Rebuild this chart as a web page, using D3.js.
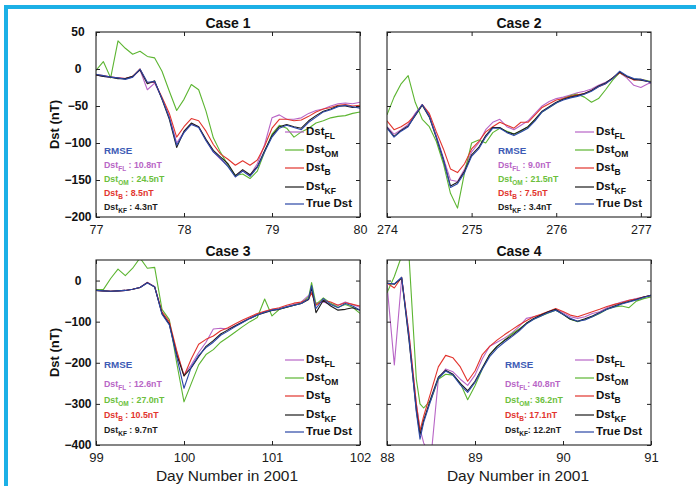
<!DOCTYPE html>
<html>
<head>
<meta charset="utf-8">
<script src="https://cdn.jsdelivr.net/npm/d3@7"></script>
<style>
  body { margin: 0; background: #fff; }
  svg { display: block; font-family: "Liberation Sans", Arial, sans-serif; }
</style>
</head>
<body>
<svg id="chart" width="696" height="486"></svg>
<script>
// ---- Dst storm cases, day numbers in 2001 (hours after the first day shown) ----
const case1Hours = [0,2,4,6,8,10,12,14,16,18,20,22,24,26,28,30,32,34,36,38,40,42,44,46,48,50,52,54,56,58,60,62,64,66,68,70,72];
const case1FL   = [-8,-10,-11,-12,-13,-11,-1,-28,-19,-40,-64,-100,-85,-74,-78,-96,-112,-122,-131,-145,-137,-144,-128,-102,-66,-62,-68,-68,-66,-60,-56,-54,-50,-47,-46,-47,-45];
const case1OM   = [-2,10,-12,38,28,20,24,17,15,-3,-30,-56,-41,-21,-28,-57,-93,-113,-130,-144,-142,-148,-138,-112,-88,-76,-80,-92,-85,-80,-73,-70,-66,-64,-63,-60,-58];
const case1B    = [-8,-9,-11,-12,-13,-10,0,-19,-18,-38,-60,-92,-78,-67,-70,-84,-102,-115,-122,-130,-124,-130,-123,-104,-80,-68,-68,-70,-69,-64,-58,-54,-52,-49,-48,-50,-49];
const case1KF   = [-8,-10,-11,-13,-13,-10,-1,-20,-16,-41,-68,-106,-84,-73,-78,-95,-110,-119,-128,-144,-136,-143,-132,-110,-90,-78,-75,-78,-80,-70,-63,-57,-54,-50,-50,-52,-51];
const case1True = [-7,-9,-11,-12,-14,-11,0,-18,-17,-40,-66,-103,-86,-75,-79,-97,-112,-121,-132,-146,-138,-145,-133,-112,-92,-80,-76,-79,-82,-72,-65,-58,-55,-51,-49,-51,-53];
const case1Rmse = ["10.8", "24.5", "8.5", "4.3"];

const case2Hours = [0,2,4,6,8,10,12,14,16,18,20,22,24,26,28,30,32,34,36,38,40,42,44,46,48,50,52,54,56,58,60,62,64,66,68,70,72,74,76];
const case2FL   = [-78,-88,-82,-75,-60,-48,-62,-90,-120,-150,-152,-135,-112,-100,-82,-72,-68,-78,-82,-76,-70,-60,-50,-44,-40,-38,-35,-32,-30,-27,-22,-18,-13,-5,-12,-22,-25,-20,-18];
const case2OM   = [-62,-38,-20,-9,-45,-68,-78,-98,-128,-168,-188,-140,-100,-96,-100,-86,-80,-84,-88,-84,-78,-68,-58,-52,-46,-40,-36,-34,-38,-45,-40,-28,-15,-5,-10,-14,-14,-16,-18];
const case2B    = [-70,-82,-78,-72,-62,-48,-60,-85,-108,-135,-140,-128,-108,-98,-85,-78,-72,-76,-80,-72,-72,-62,-52,-47,-42,-40,-37,-35,-33,-29,-24,-20,-12,-5,-10,-15,-14,-17,-19];
const case2KF   = [-79,-91,-83,-77,-63,-49,-65,-93,-123,-158,-153,-138,-116,-106,-90,-79,-79,-85,-88,-83,-78,-68,-57,-51,-45,-41,-38,-36,-33,-29,-23,-19,-12,-4,-10,-14,-15,-17,-19];
const case2True = [-80,-92,-84,-78,-62,-48,-64,-92,-122,-160,-155,-140,-118,-108,-92,-80,-80,-86,-90,-85,-80,-70,-58,-52,-46,-42,-39,-37,-34,-30,-24,-20,-13,-3,-9,-13,-14,-17,-20];
const case2Rmse = ["9.0", "21.5", "7.5", "3.4"];

const case3Hours = [0,2,4,6,8,10,12,14,16,18,20,22,24,26,28,30,32,34,36,38,40,42,44,46,48,50,52,54,56,58,58.8,60,62,64,66,68,70,72];
const case3FL   = [-24,-25,-26,-25,-24,-21,-17,-4,-15,-80,-104,-175,-230,-205,-175,-150,-118,-116,-118,-110,-100,-90,-82,-76,-70,-68,-63,-58,-52,-36,-28,-55,-52,-58,-60,-52,-58,-65];
const case3OM   = [-22,-22,5,28,12,30,55,30,32,-70,-95,-200,-295,-250,-205,-180,-168,-150,-138,-125,-112,-100,-90,-45,-86,-70,-65,-60,-55,-40,-5,-58,-42,-55,-65,-58,-65,-80];
const case3B    = [-24,-25,-26,-25,-24,-21,-17,-5,-15,-76,-100,-170,-232,-190,-155,-143,-135,-122,-115,-105,-96,-88,-80,-75,-70,-66,-60,-55,-52,-45,-30,-60,-48,-52,-60,-54,-58,-62];
const case3KF   = [-24,-25,-26,-25,-24,-21,-17,-5,-16,-80,-106,-180,-232,-212,-185,-160,-146,-130,-120,-110,-101,-92,-84,-78,-73,-70,-65,-60,-56,-46,-18,-78,-48,-62,-72,-70,-66,-72];
const case3True = [-24,-25,-26,-25,-24,-21,-17,-6,-15,-82,-108,-185,-262,-210,-182,-163,-150,-133,-123,-112,-102,-92,-84,-77,-72,-69,-64,-60,-56,-44,-12,-68,-44,-58,-66,-56,-62,-72];
const case3Rmse = ["12.6", "27.0", "10.5", "9.7"];

const case4Hours = [0,2,4,6,8,9,10,12,14,16,18,20,22,24,26,28,30,32,34,36,38,40,42,44,46,48,50,52,54,56,58,60,62,64,66,68,70,72];
const case4FL   = [-10,-205,5,-130,-300,-360,-395,-430,-240,-215,-222,-240,-255,-230,-190,-160,-150,-140,-128,-112,-92,-88,-84,-76,-70,-78,-88,-92,-88,-80,-76,-66,-58,-52,-48,-44,-40,-37];
const case4OM   = [-30,10,60,60,-240,-300,-310,-290,-240,-228,-230,-250,-290,-256,-215,-180,-160,-145,-130,-118,-104,-94,-86,-79,-72,-82,-94,-100,-94,-88,-80,-70,-64,-62,-66,-50,-44,-40];
const case4B    = [-6,-18,8,-130,-300,-365,-330,-270,-210,-182,-188,-210,-245,-220,-180,-160,-145,-132,-120,-108,-98,-88,-82,-75,-68,-75,-84,-88,-82,-76,-70,-63,-58,-54,-48,-45,-40,-36];
const case4KF   = [-6,-9,6,-145,-315,-375,-340,-285,-235,-218,-228,-250,-268,-245,-212,-180,-160,-146,-134,-120,-104,-92,-84,-76,-70,-82,-94,-99,-93,-86,-78,-69,-62,-56,-51,-46,-40,-36];
const case4True = [-7,-8,8,-140,-320,-386,-345,-290,-238,-220,-230,-254,-272,-248,-215,-185,-165,-150,-137,-123,-106,-94,-86,-78,-72,-82,-92,-99,-96,-88,-79,-70,-64,-57,-52,-47,-41,-36];
const case4Rmse = ["40.8", "36.2", "17.1", "12.2"];

const caseTitles   = ["Case 1", "Case 2", "Case 3", "Case 4"];
const caseStartDay = [77, 274, 99, 88];
const caseXTicks   = [[77, 78, 79, 80], [274, 275, 276, 277], [99, 100, 101, 102], [88, 89, 90, 91]];
const caseXEnd     = [80, 277.12, 102, 91];
const upperYTicks  = [50, 0, -50, -100, -150, -200];
const lowerYTicks  = [0, -100, -200, -300, -400];
const modelSubs    = ["FL", "OM", "B", "KF"];
const trueLabel    = "True Dst";

// ---- styling and layout ----
const colors = { FL: "#b865c6", OM: "#5cb531", B: "#e2352e", KF: "#1c1c1c", True: "#2b47a6" };
const rmseColors = { FL: "#b865c6", OM: "#6cbf3c", B: "#e2352e", KF: "#1c1c1c" };
const rmseHead = "#3d5bb5";
const PW = 264, PH = 185;

const cases = [
  { hours: case1Hours, series: [case1FL, case1OM, case1B, case1KF, case1True], rmse: case1Rmse,
    left: 96,  top: 32,  yDomain: [-200, 50], yTicks: upperYTicks, yLabels: true,  lower: false,
    rmseX: 8,   colon: " : ", legendX: 189 },
  { hours: case2Hours, series: [case2FL, case2OM, case2B, case2KF, case2True], rmse: case2Rmse,
    left: 387, top: 32,  yDomain: [-200, 50], yTicks: upperYTicks, yLabels: false, lower: false,
    rmseX: 111, colon: "  : ", legendX: 188 },
  { hours: case3Hours, series: [case3FL, case3OM, case3B, case3KF, case3True], rmse: case3Rmse,
    left: 96,  top: 260, yDomain: [-400, 50], yTicks: lowerYTicks, yLabels: true,  lower: true,
    rmseX: 8,   colon: " : ", legendX: 189 },
  { hours: case4Hours, series: [case4FL, case4OM, case4B, case4KF, case4True], rmse: case4Rmse,
    left: 387, top: 260, yDomain: [-400, 50], yTicks: lowerYTicks, yLabels: false, lower: true,
    rmseX: 118, colon: ": ", legendX: 188 }
];

const svg = d3.select("#chart");
svg.append("rect").attr("width", 696).attr("height", 486).attr("fill", "#fff");

// page frame strips
svg.append("rect").attr("x", 4).attr("y", 5).attr("width", 692).attr("height", 4).attr("fill", "#1cb0e6");
svg.append("rect").attr("x", 4).attr("y", 5).attr("width", 4).attr("height", 481).attr("fill", "#1cb0e6");

const seriesKeys = ["FL", "OM", "B", "KF", "True"];

cases.forEach((c, i) => {
  const start = caseStartDay[i];
  const x = d3.scaleLinear().domain([start, caseXEnd[i]]).range([0, PW]);
  const y = d3.scaleLinear().domain(c.yDomain).range([PH, 0]);
  const g = svg.append("g").attr("transform", `translate(${c.left},${c.top})`);

  const clipId = "clip" + i;
  g.append("clipPath").attr("id", clipId).append("rect").attr("width", PW).attr("height", PH);

  // curves
  const line = d3.line().x((d, k) => x(start + c.hours[k] / 24)).y(d => y(d));
  const plot = g.append("g").attr("clip-path", `url(#${clipId})`);
  c.series.forEach((vals, s) => {
    plot.append("path").datum(vals).attr("d", line)
      .attr("fill", "none").attr("stroke", colors[seriesKeys[s]])
      .attr("stroke-width", 1.1).attr("stroke-linejoin", "round");
  });

  // axes with inward ticks
  const fs = c.lower ? 13 : 12.5;
  const bottom = g.append("g").attr("transform", `translate(0,${PH})`)
    .call(d3.axisBottom(x).tickValues(caseXTicks[i]).tickSize(-4)
      .tickPadding(c.lower ? 8 : 8.5).tickFormat(d3.format("d")));
  bottom.selectAll("text").attr("font-size", fs).attr("fill", "#1a1a1a")
    .attr("font-family", "Liberation Sans, Arial, sans-serif");
  g.append("g").call(d3.axisTop(x).tickValues(caseXTicks[i]).tickSize(-4).tickFormat(""));
  const leftAx = g.append("g")
    .call(d3.axisLeft(y).tickValues(c.yTicks).tickSize(-4).tickPadding(18)
      .tickFormat(c.yLabels ? d3.format("d") : ""));
  leftAx.selectAll("text").attr("text-anchor", "middle").attr("font-size", 12)
    .attr("font-weight", "bold").attr("fill", "#111")
    .attr("font-family", "Liberation Sans, Arial, sans-serif");
  g.append("g").attr("transform", `translate(${PW},0)`)
    .call(d3.axisRight(y).tickValues(c.yTicks).tickSize(-4).tickFormat(""));
  g.selectAll(".domain").remove();
  g.selectAll(".tick line").attr("stroke", "#222").attr("stroke-width", 1);
  g.append("rect").attr("width", PW).attr("height", PH)
    .attr("fill", "none").attr("stroke", "#222").attr("stroke-width", 1.1);

  // title
  g.append("text").attr("x", PW / 2).attr("y", -4).attr("text-anchor", "middle")
    .attr("font-size", 14).attr("font-weight", "bold").attr("fill", "#111").text(caseTitles[i]);

  if (c.yLabels) {
    g.append("text").attr("transform", `translate(-37,${PH / 2}) rotate(-90)`)
      .attr("text-anchor", "middle").attr("font-size", 13).attr("font-weight", "bold")
      .attr("fill", "#111").text("Dst (nT)");
  }
  if (c.lower) {
    g.append("text").attr("x", PW / 2 - 1).attr("y", 221).attr("text-anchor", "middle")
      .attr("font-size", 15.5).attr("fill", "#1a1a1a").text("Day Number in 2001");
  }

  // legend
  const legY = [100, 118, 136, 155, 172];
  seriesKeys.forEach((k, s) => {
    const ly = legY[s];
    g.append("line").attr("x1", c.legendX).attr("x2", c.legendX + 19)
      .attr("y1", ly).attr("y2", ly).attr("stroke", colors[k]).attr("stroke-width", 1.2);
    const t = g.append("text").attr("x", c.legendX + 21).attr("y", ly + 3)
      .attr("font-size", 11.5).attr("font-weight", "bold").attr("fill", "#111");
    if (k === "True") {
      t.text(trueLabel);
    } else {
      t.append("tspan").text("Dst");
      t.append("tspan").attr("font-size", 8.5).attr("dy", 4).text(modelSubs[s]);
    }
  });

  // RMSE summary
  const rmseY = c.lower ? [108, 127, 143, 158, 173] : [122, 136, 150, 164, 178];
  g.append("text").attr("x", c.rmseX).attr("y", rmseY[0])
    .attr("font-size", 9.8).attr("font-weight", "bold").attr("fill", rmseHead).text("RMSE");
  modelSubs.forEach((m, s) => {
    const t = g.append("text").attr("x", c.rmseX).attr("y", rmseY[s + 1])
      .attr("font-size", 8.8).attr("font-weight", "bold").attr("fill", rmseColors[m]);
    t.append("tspan").text("Dst");
    t.append("tspan").attr("font-size", 6.5).attr("dy", 3).text(m);
    t.append("tspan").attr("dy", -3).text(c.colon + c.rmse[s] + "nT");
  });
});
</script>
</body>
</html>
